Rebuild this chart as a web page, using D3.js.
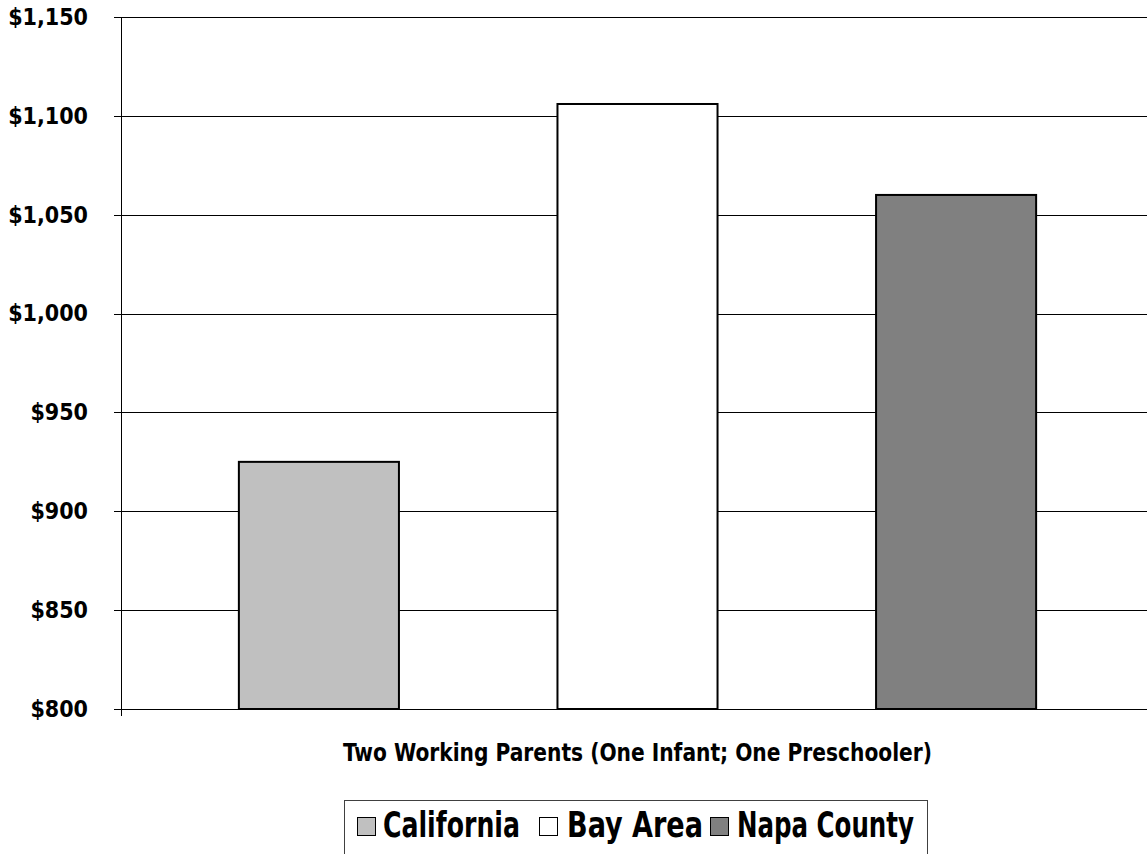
<!DOCTYPE html>
<html>
<head>
<meta charset="utf-8">
<script src="https://cdn.jsdelivr.net/npm/d3@7"></script>
<style>
  html, body { margin: 0; padding: 0; background: #fff; }
  svg { display: block; }
  text { font-family: "DejaVu Sans Condensed", "DejaVu Sans", sans-serif; font-stretch: condensed; font-weight: bold; fill: #000; }
</style>
</head>
<body>
<svg id="chart" width="1147" height="854"></svg>
<script>
// Monthly child care cost, two working parents (one infant, one preschooler)
const categories = ["Two Working Parents (One Infant; One Preschooler)"];
const seriesNames = ["California", "Bay Area", "Napa County"];
const seriesValues = [925, 1106, 1060];
const seriesColors = ["#C0C0C0", "#FFFFFF", "#808080"];
const yTicks = [800, 850, 900, 950, 1000, 1050, 1100, 1150];

const W = 1147, H = 854;
const plot = { left: 121, top: 17, right: 1154, bottom: 709 };

const svg = d3.select("#chart");

const y = d3.scaleLinear().domain([800, 1150]).range([plot.bottom, plot.top]);
const x0 = d3.scaleBand().domain(categories).range([plot.left, plot.right]);
const x1 = d3.scaleBand().domain(seriesNames)
  .range([0, x0.bandwidth()])
  .paddingInner(0.4976)
  .paddingOuter(0.37);

const fmt = v => "$" + d3.format(",")(v);

// horizontal gridlines
const grid = svg.append("g")
  .attr("transform", `translate(${plot.left},0)`)
  .call(d3.axisLeft(y).tickValues(yTicks).tickSize(-(W - plot.left)).tickFormat(""));
grid.select(".domain").remove();
grid.selectAll("line").attr("stroke", "#000").attr("stroke-width", 1).attr("shape-rendering", "crispEdges");

// bars
const group = svg.append("g").attr("transform", `translate(${x0(categories[0])},0)`);
group.selectAll("rect")
  .data(seriesNames.map((n, i) => ({ name: n, value: seriesValues[i], color: seriesColors[i] })))
  .join("rect")
  .attr("x", d => x1(d.name))
  .attr("y", d => y(d.value))
  .attr("width", x1.bandwidth())
  .attr("height", d => y(800) - y(d.value))
  .attr("fill", d => d.color)
  .attr("stroke", "#000")
  .attr("stroke-width", 2);

// y axis
const yAxis = svg.append("g")
  .attr("transform", `translate(${plot.left},0)`)
  .call(d3.axisLeft(y).tickValues(yTicks).tickSize(7).tickSizeOuter(0).tickPadding(26).tickFormat(fmt));
yAxis.select(".domain").attr("stroke", "#000").attr("stroke-width", 1).attr("shape-rendering", "crispEdges");
yAxis.selectAll("line").attr("stroke", "#000").attr("shape-rendering", "crispEdges");
yAxis.selectAll("text").attr("font-size", 23).attr("fill", "#000")
  .style("font-family", "'DejaVu Sans Condensed', 'DejaVu Sans', sans-serif").style("font-weight", "bold");

// x axis tick at the left end of the category
svg.append("line")
  .attr("x1", plot.left).attr("x2", plot.left)
  .attr("y1", plot.bottom).attr("y2", plot.bottom + 7)
  .attr("stroke", "#000").attr("shape-rendering", "crispEdges");

// category title
svg.append("text")
  .attr("x", 343).attr("y", 761)
  .attr("font-size", 25)
  .attr("textLength", 589)
  .attr("lengthAdjust", "spacingAndGlyphs")
  .text(categories[0]);

// legend
const legend = svg.append("g");
legend.append("rect")
  .attr("x", 344.5).attr("y", 800.5)
  .attr("width", 583).attr("height", 100)
  .attr("fill", "#fff").attr("stroke", "#404040").attr("stroke-width", 1);

const legendItems = [
  { sx: 357, tx: 383, tw: 137 },
  { sx: 539, tx: 567, tw: 136 },
  { sx: 710, tx: 737, tw: 177 }
];
seriesNames.forEach((n, i) => {
  const it = legendItems[i];
  legend.append("rect")
    .attr("x", it.sx + 0.5).attr("y", 817.5)
    .attr("width", 18).attr("height", 18)
    .attr("fill", seriesColors[i]).attr("stroke", "#000").attr("stroke-width", 1);
  legend.append("text")
    .attr("x", it.tx).attr("y", 837)
    .attr("font-size", 35)
    .attr("textLength", it.tw)
    .attr("lengthAdjust", "spacingAndGlyphs")
    .text(n);
});
</script>
</body>
</html>
